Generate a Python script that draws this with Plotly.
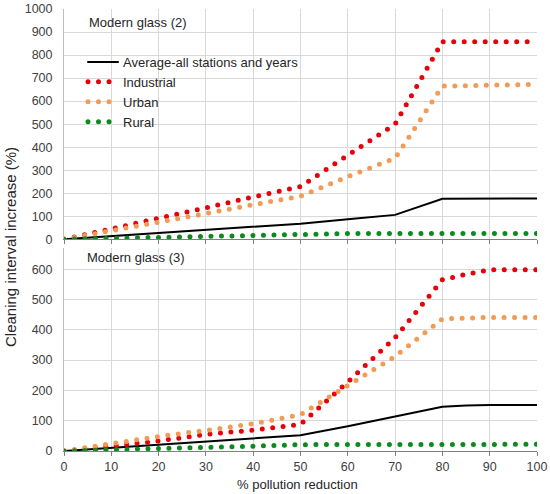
import plotly.graph_objects as go
from plotly.subplots import make_subplots

# ---- data ----
x_top = [0, 10, 20, 30, 40, 50, 60, 70, 80, 90, 100]
avg_g2 = [0, 13, 27, 40, 54, 68, 87, 106, 176, 177, 177]
ind_g2 = [0, 44, 90, 137, 184, 229, 365, 500, 858, 858, 858]
urb_g2 = [0, 36, 72, 112, 150, 187, 272, 352, 665, 670, 673]
rur_g2 = [0, 4, 7, 11, 17, 24, 25, 25, 25, 25, 25]

x_bot = [0, 10, 20, 30, 40, 50, 60, 70, 80, 85, 90, 100]
avg_g3 = [0, 10, 21, 31, 42, 52, 82, 113, 146, 150, 152, 152]
ind_g3 = [0, 16, 33, 55, 69, 88, 228, 374, 565, 583, 598, 598]
urb_g3 = [0, 26, 48, 68, 90, 120, 215, 312, 436, 439, 441, 441]
rur_g3 = [0, 3, 6, 11, 16, 21, 22, 22, 22, 22, 22, 22]

names = ["Average-all stations and years", "Industrial", "Urban", "Rural"]
x_ticks = [0, 10, 20, 30, 40, 50, 60, 70, 80, 90, 100]
y_ticks_top = [0, 100, 200, 300, 400, 500, 600, 700, 800, 900, 1000]
y_ticks_bot = [0, 100, 200, 300, 400, 500, 600]
panel_titles = ["Modern glass (2)", "Modern glass (3)"]

# ---- styles ----
FONT = "Liberation Sans, Arial, sans-serif"
colors = ["#000000", "#E8000B", "#F39B55", "#0B8A1E"]
DOT = "0px,10.5px"

fig = make_subplots(rows=2, cols=1, shared_xaxes=False, vertical_spacing=0.02)

series_top = [avg_g2, ind_g2, urb_g2, rur_g2]
series_bot = [avg_g3, ind_g3, urb_g3, rur_g3]
for i, (n, c) in enumerate(zip(names, colors)):
    line = dict(color=c, width=2) if i == 0 else dict(color=c, width=5, dash=DOT)
    fig.add_trace(go.Scatter(x=x_top, y=series_top[i], mode="lines", name=n,
                             line=line, showlegend=True), row=1, col=1)
for i, (n, c) in enumerate(zip(names, colors)):
    line = dict(color=c, width=2) if i == 0 else dict(color=c, width=5, dash=DOT)
    fig.add_trace(go.Scatter(x=x_bot, y=series_bot[i], mode="lines", name=n,
                             line=line, showlegend=False), row=2, col=1)

W, H = 550, 494
L, R, T, B = 64, 13, 9, 43
ph = H - T - B

def fy(py):
    return (H - B - py) / ph

xcommon = dict(range=[0, 100], tickvals=x_ticks, showgrid=True, gridcolor="#d9d9d9",
               gridwidth=1, showline=True, linecolor="#808080", linewidth=1.3,
               ticks="outside", ticklen=4, tickcolor="#808080", zeroline=False,
               automargin=False,
               tickfont=dict(family=FONT, size=12.5, color="#404040"))
fig.update_xaxes(**xcommon, showticklabels=False, row=1, col=1)
fig.update_xaxes(**xcommon, showticklabels=True, row=2, col=1)

ycommon = dict(showgrid=True, gridcolor="#d9d9d9", gridwidth=1, showline=True,
               linecolor="#bfbfbf", linewidth=1, ticks="", zeroline=False,
               ticklabelstandoff=8, automargin=False,
               tickfont=dict(family=FONT, size=12.5, color="#404040"))
fig.update_yaxes(**ycommon, range=[0, 1000], tickvals=y_ticks_top, row=1, col=1)
fig.update_yaxes(**ycommon, range=[0, 670], tickvals=y_ticks_bot, row=2, col=1)

fig.update_layout(
    yaxis=dict(domain=[fy(239.3), 1.0]),
    yaxis2=dict(domain=[0.0, fy(248)]),
)

annots = [
    dict(text=panel_titles[0], xref="x domain", yref="y domain", x=(87 - L) / (W - L - R),
         y=(239.3 - 23) / 230, xanchor="left", yanchor="middle", showarrow=False,
         font=dict(family=FONT, size=13, color="#262626")),
    dict(text=panel_titles[1], xref="x2 domain", yref="y2 domain", x=(85 - L) / (W - L - R),
         y=(451 - 257) / 203, xanchor="left", yanchor="middle", showarrow=False,
         font=dict(family=FONT, size=13, color="#262626")),
    dict(text="Cleaning interval increase (%)", xref="paper", yref="paper",
         x=(10 - L) / (W - L - R), y=fy(247), textangle=-90, xanchor="center",
         yanchor="middle", showarrow=False, font=dict(family=FONT, size=15, color="#262626")),
    dict(text="% pollution reduction", xref="paper", yref="paper",
         x=(297 - L) / (W - L - R), y=fy(484), xanchor="center", yanchor="middle",
         showarrow=False, font=dict(family=FONT, size=13, color="#262626")),
]

fig.update_layout(
    width=W, height=H,
    margin=dict(l=L, r=R, t=T, b=B, autoexpand=False),
    paper_bgcolor="white", plot_bgcolor="white",
    annotations=annots,
    showlegend=True,
    legend=dict(x=(83 - L) / (W - L - R), y=fy(47), xref="paper", yref="paper",
                xanchor="left", yanchor="top", bgcolor="rgba(0,0,0,0)",
                itemwidth=30, tracegroupgap=0,
                font=dict(family=FONT, size=13, color="#262626")),
)

post = """
document.documentElement.style.margin = '0';
document.documentElement.style.overflow = 'hidden';
document.body.style.margin = '0';
document.body.style.overflow = 'hidden';
var gd = document.getElementById('{plot_id}');
function fixCaps(){
  var ps = document.querySelectorAll('path.js-line, .legendlines path');
  ps.forEach(function(p){ p.style.strokeLinecap = 'round'; });
}
fixCaps();
if (gd && gd.on) { gd.on('plotly_afterplot', fixCaps); }
setTimeout(fixCaps, 50);
setTimeout(fixCaps, 300);
"""

fig.write_html("out.html", post_script=post, config={"displayModeBar": False})
